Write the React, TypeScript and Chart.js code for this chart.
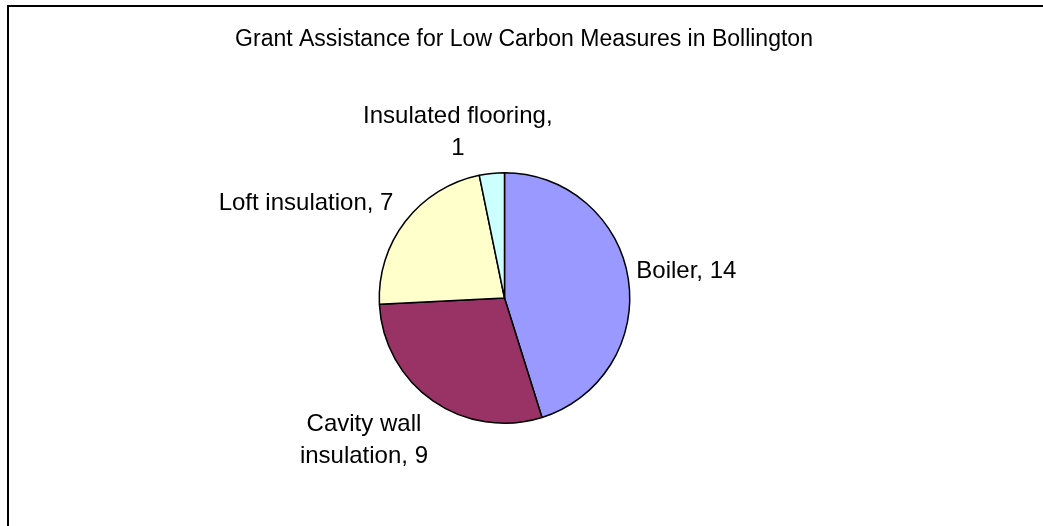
import React, { useEffect, useRef } from "react";
import { Chart, registerables } from "chart.js";

Chart.register(...registerables);

const chartTitle = "Grant Assistance for Low Carbon Measures in Bollington";
const categories = ["Boiler", "Cavity wall insulation", "Loft insulation", "Insulated flooring"];
const values = [14, 9, 7, 1];
const labelLines = [["Boiler, 14"], ["Cavity wall", "insulation, 9"], ["Loft insulation, 7"], ["Insulated flooring,", "1"]];
const sliceColors = ["#9999FF", "#993366", "#FFFFCC", "#CCFFFF"];

// label placement relative to slice edge midpoint (style only)
const labelLayout = [
  { dx: 8, dy: -8, align: "left" },
  { dx: -69, dy: 40, align: "center" },
  { dx: -12, dy: -17.5, align: "right" },
  { dx: -34, dy: -41, align: "center" },
];

const FONT = "'Liberation Sans', Arial, sans-serif";

const decorPlugin = {
  id: "decor",
  beforeDraw(chart: any) {
    const ctx = chart.ctx;
    ctx.save();
    ctx.fillStyle = "#ffffff";
    ctx.fillRect(0, 0, chart.width, chart.height);
    ctx.strokeStyle = "#000000";
    ctx.lineWidth = 2;
    ctx.strokeRect(8, 6, 3000, 3000);
    ctx.fillStyle = "#000000";
    ctx.font = `23px ${FONT}`;
    ctx.textAlign = "center";
    ctx.textBaseline = "middle";
    ctx.fillText(chartTitle, 524, 40);
    ctx.restore();
  },
  afterDatasetsDraw(chart: any) {
    const ctx = chart.ctx;
    const meta = chart.getDatasetMeta(0);
    ctx.save();
    ctx.fillStyle = "#000000";
    ctx.font = `24px ${FONT}`;
    ctx.textBaseline = "middle";
    const lineH = 32;
    meta.data.forEach((arc: any, i: number) => {
      const p = arc.getProps(["x", "y", "startAngle", "endAngle", "outerRadius"], true);
      const mid = (p.startAngle + p.endAngle) / 2;
      const ex = p.x + Math.cos(mid) * p.outerRadius;
      const ey = p.y + Math.sin(mid) * p.outerRadius;
      const lay = labelLayout[i];
      const lines = labelLines[i];
      const cx = ex + lay.dx;
      const cy = ey + lay.dy;
      ctx.textAlign = lay.align;
      const startY = cy - ((lines.length - 1) * lineH) / 2;
      lines.forEach((t, j) => ctx.fillText(t, cx, startY + j * lineH));
    });
    ctx.restore();
  },
};

export default function App() {
  const ref = useRef<HTMLCanvasElement>(null);
  useEffect(() => {
    const chart = new Chart(ref.current as HTMLCanvasElement, {
      type: "pie",
      data: {
        labels: categories,
        datasets: [
          {
            data: values,
            backgroundColor: sliceColors,
            borderColor: "#000000",
            borderWidth: 1.5,
          },
        ],
      },
      options: {
        responsive: false,
        animation: false,
        layout: { padding: { left: 378.5, right: 412.5, top: 172, bottom: 102 } },
        plugins: {
          legend: { display: false },
          title: { display: false },
          tooltip: { enabled: false },
        },
      },
      plugins: [decorPlugin],
    });
    return () => chart.destroy();
  }, []);
  return (
    <div style={{ position: "fixed", left: 0, top: 0, width: 1043, height: 526, background: "#fff" }}>
      <canvas ref={ref} width={1043} height={526} />
    </div>
  );
}
